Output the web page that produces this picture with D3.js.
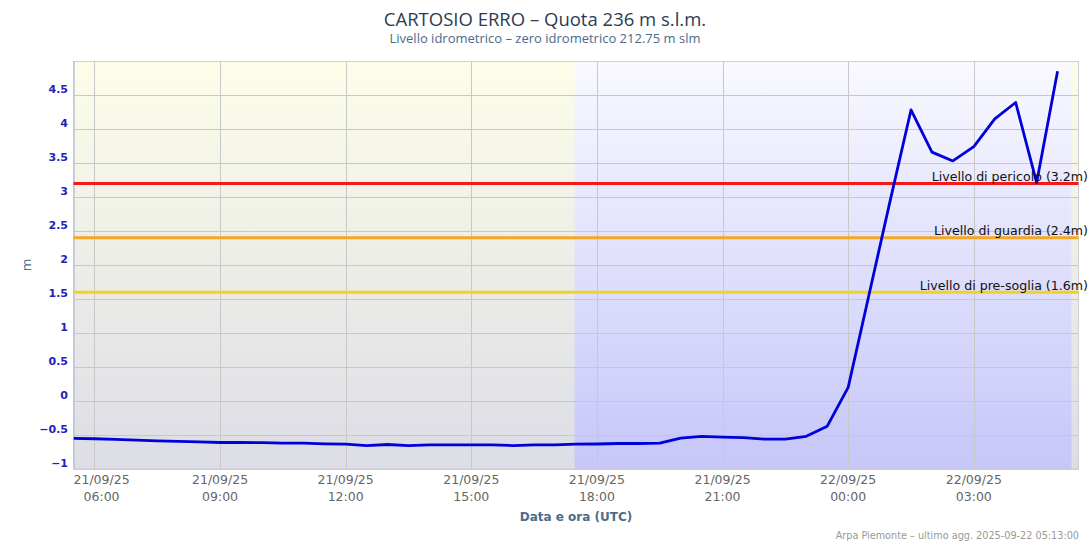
<!DOCTYPE html>
<html><head><meta charset="utf-8">
<script src="https://cdn.jsdelivr.net/npm/d3@7"></script>
<style>
html,body{margin:0;padding:0;background:#fff;}
svg{display:block;font-family:"DejaVu Sans",sans-serif;}
</style></head>
<body><svg id="c" width="1090" height="545"></svg>
<script>
const times = [
"2025-09-21T05:30Z","2025-09-21T06:00Z","2025-09-21T06:30Z","2025-09-21T07:00Z","2025-09-21T07:30Z","2025-09-21T08:00Z",
"2025-09-21T08:30Z","2025-09-21T09:00Z","2025-09-21T09:30Z","2025-09-21T10:00Z","2025-09-21T10:30Z","2025-09-21T11:00Z",
"2025-09-21T11:30Z","2025-09-21T12:00Z","2025-09-21T12:30Z","2025-09-21T13:00Z","2025-09-21T13:30Z","2025-09-21T14:00Z",
"2025-09-21T14:30Z","2025-09-21T15:00Z","2025-09-21T15:30Z","2025-09-21T16:00Z","2025-09-21T16:30Z","2025-09-21T17:00Z",
"2025-09-21T17:30Z","2025-09-21T18:00Z","2025-09-21T18:30Z","2025-09-21T19:00Z","2025-09-21T19:30Z","2025-09-21T20:00Z",
"2025-09-21T20:30Z","2025-09-21T21:00Z","2025-09-21T21:30Z","2025-09-21T22:00Z","2025-09-21T22:30Z","2025-09-21T23:00Z",
"2025-09-21T23:30Z","2025-09-22T00:00Z","2025-09-22T00:30Z","2025-09-22T01:00Z","2025-09-22T01:30Z","2025-09-22T02:00Z",
"2025-09-22T02:30Z","2025-09-22T03:00Z","2025-09-22T03:30Z","2025-09-22T04:00Z","2025-09-22T04:30Z","2025-09-22T05:00Z"];
const levels = [
-0.55,-0.555,-0.565,-0.575,-0.585,-0.595,
-0.60,-0.61,-0.61,-0.612,-0.62,-0.62,
-0.63,-0.635,-0.655,-0.64,-0.655,-0.645,
-0.645,-0.645,-0.645,-0.655,-0.645,-0.645,
-0.635,-0.632,-0.625,-0.625,-0.62,-0.545,
-0.52,-0.53,-0.54,-0.56,-0.56,-0.52,
-0.37,0.2,1.57,2.94,4.28,3.66,
3.53,3.74,4.15,4.39,3.21,4.85];
const xDomain = ["2025-09-21T05:30Z","2025-09-22T05:30Z"];
const xTicks = ["2025-09-21T06:00Z","2025-09-21T09:00Z","2025-09-21T12:00Z","2025-09-21T15:00Z","2025-09-21T18:00Z","2025-09-21T21:00Z","2025-09-22T00:00Z","2025-09-22T03:00Z"];
const yTicks = [-1,-0.5,0,0.5,1,1.5,2,2.5,3,3.5,4,4.5];
const yDomain = [-1,5];
const nightBand = ["2025-09-21T17:28Z","2025-09-22T05:20Z"];
const thresholdNames = ["Livello di pericolo (3.2m)","Livello di guardia (2.4m)","Livello di pre-soglia (1.6m)"];
const thresholdValues = [3.2,2.4,1.6];
const thresholdColors = ["#f21a1a","#f5a623","#f2d21c"];

const L=73.5, R=1078.5, T=61, B=469;
const svg=d3.select("#c");
const parse=d=>new Date(d);
const x=d3.scaleUtc().domain(xDomain.map(parse)).range([L,R]);
const y=d3.scaleLinear().domain(yDomain).range([B,T]);

const defs=svg.append("defs");
const gd=defs.append("linearGradient").attr("id","day").attr("x1",0).attr("y1",0).attr("x2",0).attr("y2",1);
gd.append("stop").attr("offset","0%").attr("stop-color","#fdfde9");
gd.append("stop").attr("offset","100%").attr("stop-color","#dcdde6");
const gn=defs.append("linearGradient").attr("id","night").attr("x1",0).attr("y1",0).attr("x2",0).attr("y2",1);
gn.append("stop").attr("offset","0%").attr("stop-color","#f9f9ff");
gn.append("stop").attr("offset","100%").attr("stop-color","#c6c6f9");
defs.append("clipPath").attr("id","clip").append("rect").attr("x",L).attr("y",T).attr("width",R-L).attr("height",B-T);

svg.append("rect").attr("x",L).attr("y",T).attr("width",R-L).attr("height",B-T).attr("fill","url(#day)");
const n0=x(parse(nightBand[0])), n1=x(parse(nightBand[1]));
svg.append("rect").attr("x",n0).attr("y",T).attr("width",n1-n0).attr("height",B-T).attr("fill","url(#night)");

// grid
svg.append("g").selectAll("line").data(yTicks).join("line")
 .attr("x1",L).attr("x2",R).attr("y1",d=>Math.round(y(d))+0.5).attr("y2",d=>Math.round(y(d))+0.5)
 .attr("stroke","#c8c8c8").attr("stroke-width",1);
svg.append("g").selectAll("line").data(xTicks).join("line")
 .attr("x1",d=>Math.round(x(parse(d)))+0.5).attr("x2",d=>Math.round(x(parse(d)))+0.5).attr("y1",T).attr("y2",B)
 .attr("stroke","#c8c8c8").attr("stroke-width",1);
svg.append("rect").attr("x",L).attr("y",T+0.5).attr("width",R-L).attr("height",B-T-0.5)
 .attr("fill","none").attr("stroke","#cfcfd6").attr("stroke-width",1);
svg.append("line").attr("x1",L+0.5).attr("x2",L+0.5).attr("y1",T).attr("y2",B).attr("stroke","#bcc6d6").attr("stroke-width",1.5);

// thresholds
const th=svg.append("g");
thresholdValues.forEach((v,i)=>{
  th.append("line").attr("x1",L).attr("x2",R).attr("y1",y(v)).attr("y2",y(v))
    .attr("stroke",thresholdColors[i]).attr("stroke-width",3);
});

// data line
const data=times.map((t,i)=>({t:parse(t),v:levels[i]}));
svg.append("path").datum(data).attr("clip-path","url(#clip)")
 .attr("fill","none").attr("stroke","#0000d8").attr("stroke-width",2.8).attr("stroke-linejoin","round")
 .attr("d",d3.line().x(d=>x(d.t)).y(d=>y(d.v)));

// threshold labels
thresholdValues.forEach((v,i)=>{
  svg.append("text").attr("x",1088).attr("y",y(v)-2.5).attr("text-anchor","end")
   .attr("font-size","12.6px").attr("fill","#111").text(thresholdNames[i]);
});

// y axis labels
svg.append("g").selectAll("text").data(yTicks).join("text")
 .attr("x",68).attr("y",d=>y(d)-2).attr("text-anchor","end")
 .attr("font-size","11px").attr("font-weight","bold").attr("fill","#2222bb")
 .text(d=>d3.format("")(d).replace("-","\u2212"));
svg.append("text").attr("transform","translate(31,265) rotate(-90)").attr("text-anchor","middle")
 .attr("font-size","13px").attr("fill","#4d6b8a").text("m");

// x axis labels
const fmtD=d3.utcFormat("%d/%m/%y"), fmtH=d3.utcFormat("%H:%M");
const xl=svg.append("g");
xTicks.forEach(s=>{
  const d=parse(s); let cx=x(d);
  const g=xl.append("g");
  const t1=g.append("text").attr("y",484).attr("text-anchor","middle").attr("font-size","12.5px").attr("fill","#666").text(fmtD(d));
  const t2=g.append("text").attr("y",501).attr("text-anchor","middle").attr("font-size","12.5px").attr("fill","#666").text(fmtH(d));
  const w=t1.node().getComputedTextLength();
  if(cx-w/2<L) cx=L+w/2;
  t1.attr("x",cx); t2.attr("x",cx);
});
svg.append("text").attr("x",(L+R)/2).attr("y",521).attr("text-anchor","middle")
 .attr("font-size","12px").attr("font-weight","bold").attr("fill","#4d6b8a").text("Data e ora (UTC)");

// titles
svg.append("text").attr("x",545).attr("y",26).attr("text-anchor","middle")
 .attr("font-family","Open Sans").attr("font-size","18.5px").attr("fill","#2b3d52").text("CARTOSIO ERRO \u2013 Quota 236 m s.l.m.");
svg.append("text").attr("x",545).attr("y",43).attr("text-anchor","middle")
 .attr("font-family","Open Sans").attr("font-size","13px").attr("fill","#4a6b8c").text("Livello idrometrico \u2013 zero idrometrico 212.75 m slm");
svg.append("text").attr("x",1079).attr("y",539).attr("text-anchor","end")
 .attr("font-size","9.7px").attr("fill","#999").text("Arpa Piemonte \u2013 ultimo agg. 2025-09-22 05:13:00");
</script></body></html>
